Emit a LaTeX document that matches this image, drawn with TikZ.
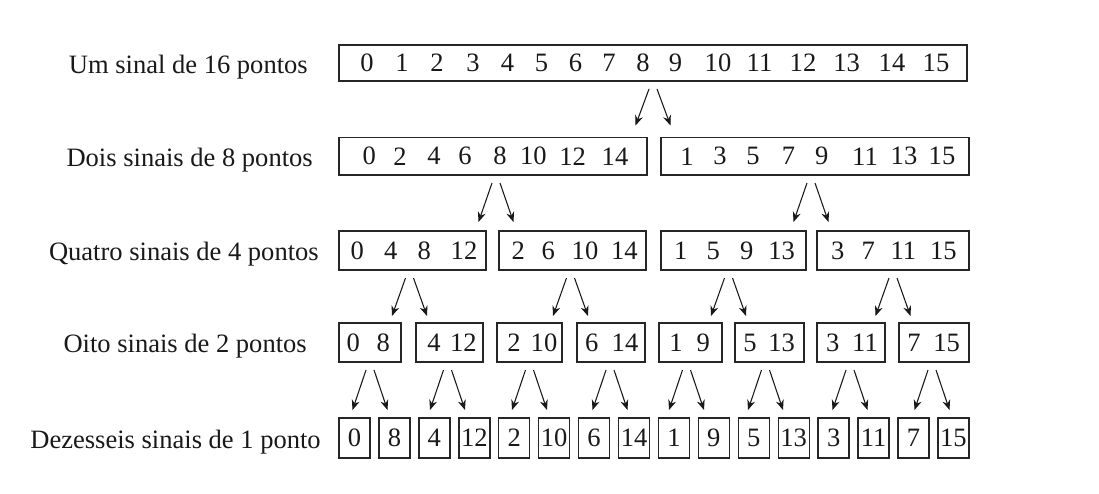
\documentclass[tikz,border=0pt]{standalone}
\usepackage{fontspec}
\setmainfont{Liberation Serif}
\usetikzlibrary{arrows.meta,calc}
\newcommand{\mybox}[5]{\node[bx,minimum width={(#3-#2)*0.75pt},minimum height={(#5-#4)*0.75pt}] (#1) at ({(#2+#3)/2},{(#4+#5)/2}) {};}
\newcommand{\arrpair}[4]{%
  \draw[arr] ($(#1.south)+(#3-4,8)$) -- ($(#1.south |- #2.north)+(#3-17.5,-#4)$);
  \draw[arr] ($(#1.south)+(#3+4,8)$) -- ($(#1.south |- #2.north)+(#3+17.5,-#4)$);}
\begin{document}
\begin{tikzpicture}[x=0.75pt,y=-0.75pt,
  bx/.style={draw=black!85,line width=1.1pt,inner sep=0pt,outer sep=0pt},
  num/.style={inner sep=0pt,text=black!90,font=\fontsize{19.9pt}{24pt}\selectfont},
  lab/.style={inner sep=0pt,anchor=base east,text=black!90,font=\fontsize{19.9pt}{24pt}\selectfont},
  arr/.style={draw=black!90,line width=0.8pt,-{Stealth[length=7.5pt,width=6pt]}}]
\useasboundingbox (0,0) rectangle (1099,493);
\fill[white] (0,0) rectangle (1099,493);
% labels
\node[lab] (l1) at (308,73) {Um sinal de 16 pontos};
\node[lab] (l2) at (313,166.5) {Dois sinais de 8 pontos};
\node[lab] (l3) at (319,260.5) {Quatro sinais de 4 pontos};
\node[lab] (l4) at (307,352.5) {Oito sinais de 2 pontos};
\node[lab] (l5) at (321,448) {Dezesseis sinais de 1 ponto};
% row 1
\mybox{r1}{339}{967}{45}{81}
\foreach \x/\t [count=\k] in {367/0,402/1,437/2,473/3,507.6/4,541.6/5,575.6/6,609/7,643/8,675.6/9,718/10,759.5/11,803/12,846.6/13,892/14,936/15}
  \node[num] (r1n\k) at (\x,63) {\t};
% row 2
\mybox{r2a}{339}{647}{137.5}{175}
\mybox{r2b}{661}{969}{137.5}{175}
\foreach \x/\t [count=\k] in {369.3/0,400/2,434/4,465/6,500/8,533.3/10,572.7/12,615/14,687/1,720/3,753/5,788.5/7,821.7/9,865/11,904/13,942/15}
  \node[num] (r2n\k) at (\x,156.25) {\t};
% row 3
\mybox{r3a}{339}{486}{231}{270}
\mybox{r3b}{499}{646}{231}{270}
\mybox{r3c}{661}{806}{231}{270}
\mybox{r3d}{817}{969}{231}{270}
\foreach \x/\t [count=\k] in {357.3/0,390.7/4,424.3/8,464/12,518.3/2,548.3/6,585/10,624.3/14,680.7/1,713.3/5,746.7/9,781.7/13,837.7/3,868.3/7,903.3/11,943.3/15}
  \node[num] (r3n\k) at (\x,250.5) {\t};
% row 4
\mybox{r4a}{339}{401}{323}{362}
\mybox{r4b}{416}{483}{323}{362}
\mybox{r4c}{497}{562}{323}{362}
\mybox{r4d}{577}{645}{323}{362}
\mybox{r4e}{659}{722}{323}{362}
\mybox{r4f}{735}{804}{323}{362}
\mybox{r4g}{817}{885}{323}{362}
\mybox{r4h}{899}{969}{323}{362}
\foreach \x/\t [count=\k] in {353.3/0,383.3/8,434/4,463.3/12,514/2,544/10,591.7/6,625/14,676/1,703.3/9,750/5,781.7/13,832.7/3,865/11,914/7,946.7/15}
  \node[num] (r4n\k) at (\x,342.5) {\t};
% row 5
\foreach \t [count=\k from 0] in {0,8,4,12,2,10,6,14,1,9,5,13,3,11,7,15}{
  \pgfmathsetmacro{\xl}{339+39.93*\k}
  \pgfmathsetmacro{\xr}{\xl+31}
  \mybox{r5b\k}{\xl}{\xr}{418}{458}
  \node[num] (r5n\k) at (r5b\k.center) {\t};
}
% arrows
\arrpair{r1}{r2a}{0}{12}
\arrpair{r2a}{r3a}{3}{9}
\arrpair{r2b}{r3c}{-4}{9}
\arrpair{r3a}{r4a}{-3}{7}
\arrpair{r3b}{r4a}{-2}{7}
\arrpair{r3c}{r4a}{-5}{7}
\arrpair{r3d}{r4a}{0}{7}
\arrpair{r4a}{r5b0}{0}{8}
\arrpair{r4b}{r5b0}{-2}{8}
\arrpair{r4c}{r5b0}{0}{8}
\arrpair{r4d}{r5b0}{-1}{8}
\arrpair{r4e}{r5b0}{-4}{8}
\arrpair{r4f}{r5b0}{-4}{8}
\arrpair{r4g}{r5b0}{-1}{8}
\arrpair{r4h}{r5b0}{-2}{8}
\end{tikzpicture}
\end{document}
